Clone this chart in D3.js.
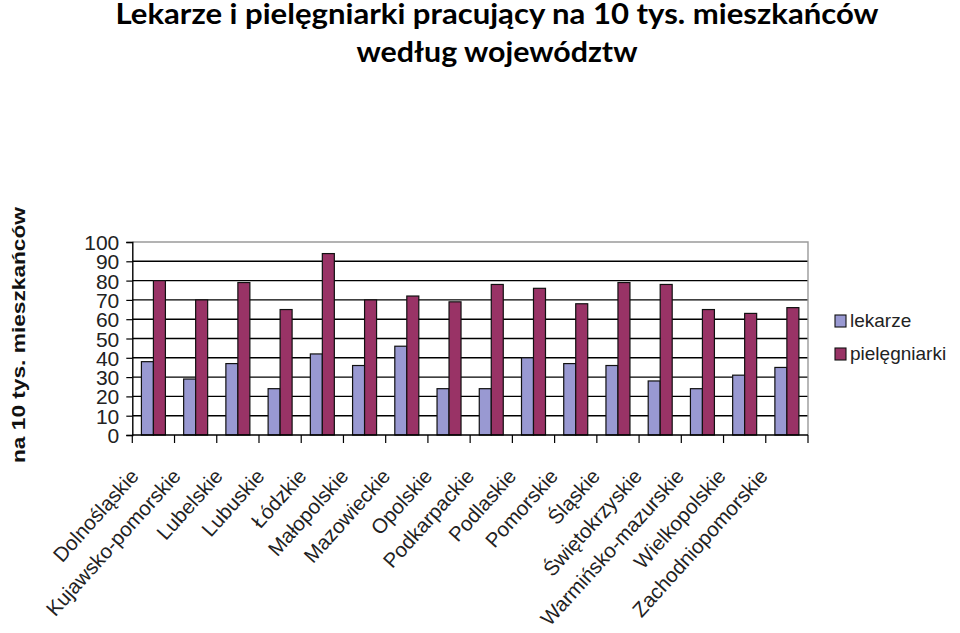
<!DOCTYPE html>
<html><head><meta charset="utf-8">
<script src="https://cdn.jsdelivr.net/npm/d3@7"></script>
<style>body{margin:0;background:#fff}svg{display:block}</style>
</head><body>
<svg id="c" width="960" height="633"></svg>
<script>
const categories = ["Dolnośląskie","Kujawsko-pomorskie","Lubelskie","Lubuskie","Łódzkie","Małopolskie","Mazowieckie","Opolskie","Podkarpackie","Podlaskie","Pomorskie","Śląskie","Świętokrzyskie","Warmińsko-mazurskie","Wielkopolskie","Zachodniopomorskie"];
const seriesNames = ["lekarze","pielęgniarki"];
const lekarze = [38,29,37,24,42,36,46,24,24,40,37,36,28,24,31,35];
const pielegniarki = [80,70,79,65,94,70,72,69,78,76,68,79,78,65,63,66];
const yTicks = [0,10,20,30,40,50,60,70,80,90,100];
const colors = ["#9999d2","#993366"];
const titleLines = ["Lekarze i pielęgniarki pracujący na 10 tys. mieszkańców","według województw"];
const yTitle = "na 10 tys. mieszkańców";

const svg = d3.select("#c");
const L=132.3, R=808, T=242, B=435;
const x0 = d3.scaleBand().domain(categories).range([L,R]).paddingInner(0).paddingOuter(0);
const x1 = d3.scaleBand().domain(seriesNames).range([0,x0.bandwidth()]).paddingInner(0).paddingOuter(0.76);
const y = d3.scaleLinear().domain([0,100]).range([B,T]);

// gridlines
svg.append("g").selectAll("line").data(yTicks.filter(t=>t>0 && t<100)).join("line")
  .attr("x1",L).attr("x2",R).attr("y1",d=>y(d)).attr("y2",d=>y(d))
  .attr("stroke","#000").attr("stroke-width",1.4);
// plot border top/right
svg.append("path").attr("d",`M${L},${y(100)}H${R}V${B}`).attr("fill","none").attr("stroke","#9a9a9a").attr("stroke-width",1.4);

// bars
const data = categories.map((c,i)=>({c, vals:[lekarze[i],pielegniarki[i]]}));
const g = svg.append("g").selectAll("g").data(data).join("g").attr("transform",d=>`translate(${x0(d.c)},0)`);
g.selectAll("rect").data(d=>d.vals.map((v,j)=>({s:seriesNames[j],v,j}))).join("rect")
  .attr("x",d=>x1(d.s)).attr("width",x1.bandwidth())
  .attr("y",d=>y(d.v)).attr("height",d=>B-y(d.v))
  .attr("fill",d=>colors[d.j]).attr("stroke","#111").attr("stroke-width",1.2);

// y axis
const ya = svg.append("g").attr("transform",`translate(${L},0)`)
  .call(d3.axisLeft(y).tickValues(yTicks).tickSize(6).tickPadding(7).tickFormat(d3.format("d")));
ya.select(".domain").attr("stroke","#000").attr("stroke-width",1.4);
ya.selectAll(".tick line").attr("stroke","#000").attr("stroke-width",1.2);
ya.selectAll("text").attr("font-family","Liberation Sans, Arial, sans-serif").attr("font-size",21).attr("fill","#222").attr("dy","0.36em");

// x axis
const xa = svg.append("g").attr("transform",`translate(0,${B})`);
xa.append("line").attr("x1",L).attr("x2",R).attr("y1",0).attr("y2",0).attr("stroke","#000").attr("stroke-width",1.4);
const bounds = categories.map(c=>x0(c)).concat([R]);
xa.selectAll("line.tk").data(bounds).join("line").attr("class","tk")
  .attr("x1",d=>d).attr("x2",d=>d).attr("y1",0).attr("y2",8).attr("stroke","#000").attr("stroke-width",1.2);
xa.selectAll("text").data(categories).join("text")
  .attr("transform",(d,i)=>`translate(${x0(d)+x0.bandwidth()/2-13.5-i*0.3},${42}) rotate(-48)`)
  .attr("text-anchor","end")
  .attr("font-family","Liberation Sans, Arial, sans-serif").attr("font-size",20.5).attr("fill","#222")
  .text(d=>d);

// y title
svg.append("text").attr("transform","translate(24.5,335) rotate(-90)")
  .attr("text-anchor","middle").attr("font-family","Liberation Sans, Arial, sans-serif")
  .attr("font-weight","bold").attr("font-size",18).attr("fill","#111")
  .attr("textLength",256).attr("lengthAdjust","spacingAndGlyphs").text(yTitle);

// title
const tl = [[titleLines[0],23.5,763],[titleLines[1],61.5,281]];
svg.selectAll("text.title").data(tl).join("text").attr("class","title")
  .attr("x",497).attr("y",d=>d[1]).attr("text-anchor","middle")
  .attr("font-family","Lato, Open Sans, sans-serif").attr("font-weight","bold").attr("font-size",28.5).attr("fill","#000")
  .attr("textLength",d=>d[2]).attr("lengthAdjust","spacingAndGlyphs").text(d=>d[0]);

// legend
const lg = svg.append("g").selectAll("g").data(seriesNames).join("g")
  .attr("transform",(d,i)=>`translate(835,${315+i*33})`);
lg.append("rect").attr("width",11).attr("height",12).attr("fill",(d,i)=>colors[i]).attr("stroke","#111").attr("stroke-width",1.1);
lg.append("text").attr("x",15).attr("y",11.5).attr("font-family","Liberation Sans, Arial, sans-serif").attr("font-size",19).attr("fill","#222").text(d=>d);
</script>
</body></html>
